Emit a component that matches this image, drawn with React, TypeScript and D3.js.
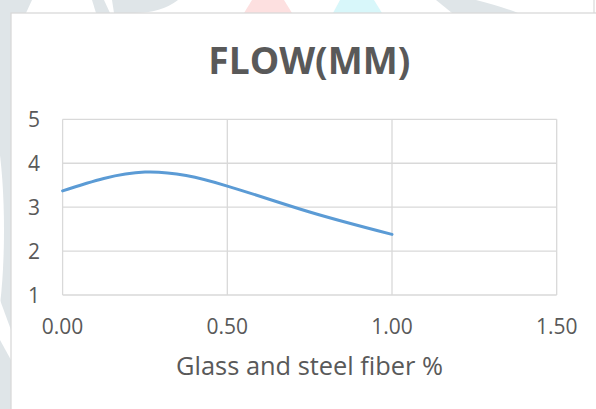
import React from "react";
import * as d3 from "d3";

// Flow measurements against combined glass and steel fiber content
const fiberPct: number[] = [0, 0.25, 0.5, 0.75, 1.0];
const flowValues: number[] = [3.37, 3.8, 3.48, 2.89, 2.38];

const xTicks: number[] = [0, 0.5, 1.0, 1.5];
const yTicks: number[] = [1, 2, 3, 4, 5];

const chartTitle = "FLOW(MM)";
const xAxisTitle = "Glass and steel fiber %";

const W = 596;
const H = 409;
const FONT = "'Open Sans', 'Noto Sans', sans-serif";
const TEXT = "#595959";
const GRID = "#d9d9d9";
const LINE = "#5b9bd5";

export default function App() {
  const x = d3.scaleLinear().domain([0, 1.5]).range([62.6, 556.7]);
  const y = d3.scaleLinear().domain([1, 5]).range([295, 119.3]);

  const pts: [number, number][] = fiberPct.map((f, i) => [f, flowValues[i]]);
  const line = d3
    .line<[number, number]>()
    .x((d) => x(d[0]))
    .y((d) => y(d[1]))
    .curve(d3.curveNatural);

  const [xMin, xMax] = x.range();
  const [yBottom, yTop] = y.range();

  return (
    <svg
      width={W}
      height={H}
      viewBox={`0 0 ${W} ${H}`}
      style={{ position: "fixed", left: 0, top: 0, display: "block" }}
    >
      {/* page background with faint logo shapes */}
      <rect x={0} y={0} width={W} height={H} fill="#ffffff" />
      <rect x={0} y={0} width={11} height={H} fill="#dfe5e8" />
      <ellipse cx={-18} cy={230} rx={22} ry={130} fill="#ffffff" />
      <path d="M0,300 L11,330 L11,360 L0,340 Z" fill="#ffffff" />
      <path d="M0,0 L32,0 L26,13 L0,13 Z" fill="#dfe5e8" />
      <path d="M92,0 L104,0 L110,13 L96,13 Z" fill="#dfe5e8" />
      <path d="M112,0 L178,0 Q160,14 130,13 L114,13 Z" fill="#dfe5e8" />
      <path d="M252,0 L284,0 L292,13 L244,13 Z" fill="#fde0e0" />
      <path d="M340,0 L374,0 L382,13 L333,13 Z" fill="#d8f7fa" />
      <path d="M436,0 L476,0 Q500,6 518,13 L452,13 Z" fill="#dfe5e8" />
      <line x1={594} y1={0} x2={594} y2={13} stroke={GRID} strokeWidth={1.2} />

      {/* chart frame */}
      <rect x={11} y={13} width={W} height={H} fill="#ffffff" stroke={GRID} strokeWidth={1.3} />

      {/* title */}
      <text
        x={309.3}
        y={74.3}
        textAnchor="middle"
        fontFamily={FONT}
        fontWeight="bold"
        fontSize={37.4}
        fill={TEXT}
        textLength={202}
        lengthAdjust="spacingAndGlyphs"
      >
        {chartTitle}
      </text>

      {/* gridlines */}
      {yTicks.map((t) => (
        <line key={`gy${t}`} x1={xMin} x2={xMax} y1={y(t)} y2={y(t)} stroke={GRID} strokeWidth={1.3} />
      ))}
      {xTicks.map((t) => (
        <line key={`gx${t}`} x1={x(t)} x2={x(t)} y1={yTop} y2={yBottom} stroke={GRID} strokeWidth={1.3} />
      ))}

      {/* data line */}
      <path d={line(pts) ?? ""} fill="none" stroke={LINE} strokeWidth={3} strokeLinecap="round" />

      {/* y tick labels */}
      {yTicks.map((t) => (
        <text
          key={`ly${t}`}
          x={40}
          y={y(t) + 7.5}
          textAnchor="end"
          fontFamily={FONT}
          fontSize={21}
          fill={TEXT}
        >
          {d3.format("d")(t)}
        </text>
      ))}

      {/* x tick labels */}
      {xTicks.map((t) => (
        <text
          key={`lx${t}`}
          x={x(t)}
          y={334.3}
          textAnchor="middle"
          fontFamily={FONT}
          fontSize={21}
          fill={TEXT}
        >
          {d3.format(".2f")(t)}
        </text>
      ))}

      {/* x axis title */}
      <text
        x={309.6}
        y={375}
        textAnchor="middle"
        fontFamily={FONT}
        fontSize={25.6}
        fill={TEXT}
        textLength={267}
        lengthAdjust="spacingAndGlyphs"
      >
        {xAxisTitle}
      </text>
    </svg>
  );
}
